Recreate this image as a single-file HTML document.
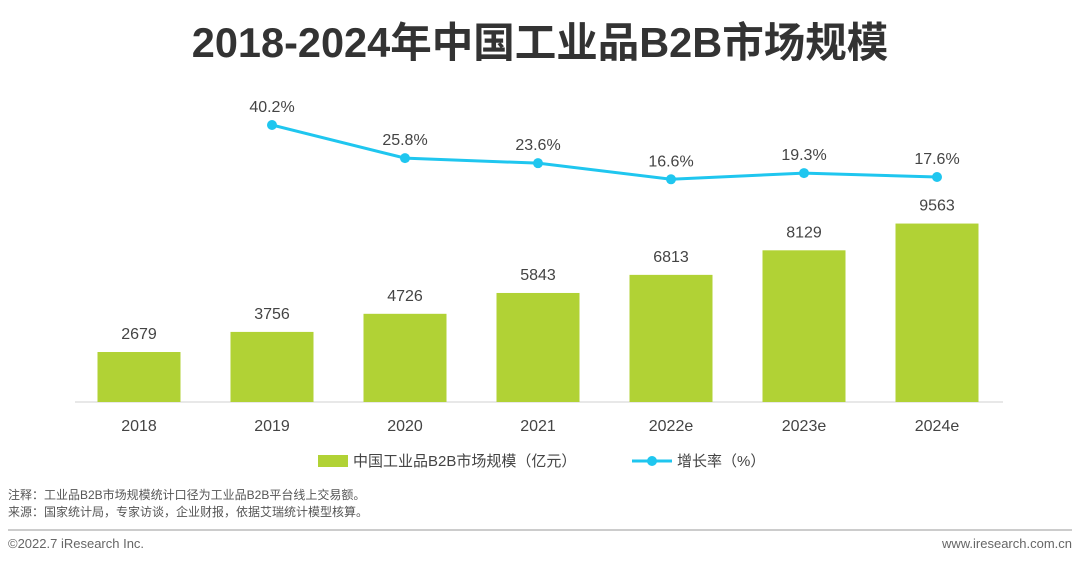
<!DOCTYPE html>
<html><head><meta charset="utf-8"><style>
body{margin:0;background:#fff;width:1080px;height:564px;overflow:hidden;font-family:"Liberation Sans","Noto Sans CJK SC",sans-serif}
</style></head><body>
<svg width="1080" height="564" xmlns="http://www.w3.org/2000/svg" font-family="Liberation Sans, Noto Sans CJK SC, sans-serif">
<text x="540" y="57" text-anchor="middle" font-size="41.5" font-weight="bold" fill="#333">2018-2024年中国工业品B2B市场规模</text>
<line x1="75" y1="402" x2="1003" y2="402" stroke="#d0d0d0" stroke-width="1"/>
<g id="bars"></g><g id="line"></g><g id="xlabels"></g>
<g>
<rect x="318" y="455" width="30" height="12" fill="#b1d235"/>
<text x="353" y="466" font-size="15" fill="#444">中国工业品B2B市场规模（亿元）</text>
<line x1="632" y1="461" x2="672" y2="461" stroke="#1fc6ef" stroke-width="3"/>
<circle cx="652" cy="461" r="5" fill="#1fc6ef"/>
<text x="677" y="466" font-size="15" fill="#444">增长率（%）</text>
</g>
<text x="8" y="499" font-size="12" fill="#555">注释：工业品B2B市场规模统计口径为工业品B2B平台线上交易额。</text>
<text x="8" y="516" font-size="12" fill="#555">来源：国家统计局，专家访谈，企业财报，依据艾瑞统计模型核算。</text>
<line x1="8" y1="530" x2="1072" y2="530" stroke="#999" stroke-width="1"/>
<text x="8" y="548" font-size="13" fill="#666">©2022.7 iResearch Inc.</text>
<text x="1072" y="548" font-size="13" fill="#666" text-anchor="end">www.iresearch.com.cn</text>
</svg>
<script>
const categories=["2018","2019","2020","2021","2022e","2023e","2024e"];
const marketSize=[2679,3756,4726,5843,6813,8129,9563];
const growthRate=[null,40.2,25.8,23.6,16.6,19.3,17.6];
const NS="http://www.w3.org/2000/svg";
function xPos(i){return 139+i*133;}
function yBar(v){return 402-v*0.01866;}
function yLine(v){return 125+(40.2-v)*2.3;}
function mk(tag,attrs,parent){const e=document.createElementNS(NS,tag);for(const k in attrs)e.setAttribute(k,attrs[k]);parent.appendChild(e);return e;}
const gb=document.getElementById('bars'),gl=document.getElementById('line'),gx=document.getElementById('xlabels');
categories.forEach((c,i)=>{
 const x=xPos(i),v=marketSize[i],y=yBar(v);
 const r=mk('rect',{x:x-41.5,y:y,width:83,height:402-y,fill:'#b1d235'},gb);
 
 
 const t=mk('text',{x:x,y:y-13,'text-anchor':'middle','font-size':16,fill:'#444'},gb);t.textContent=v;
 
 
 const l=mk('text',{x:x,y:431,'text-anchor':'middle','font-size':16,fill:'#444'},gx);l.textContent=c;
 
 
});
let pts=[];
growthRate.forEach((g,i)=>{if(g!==null)pts.push([xPos(i),yLine(g),g,categories[i]]);});
const pl=mk('polyline',{points:pts.map(p=>p[0]+','+p[1]).join(' '),fill:'none',stroke:'#1fc6ef','stroke-width':3},gl);


pts.forEach(p=>{
 const c=mk('circle',{cx:p[0],cy:p[1],r:5,fill:'#1fc6ef'},gl);
 
 
 const t=mk('text',{x:p[0],y:p[1]-13,'text-anchor':'middle','font-size':16,fill:'#444'},gl);t.textContent=p[2].toFixed(1)+'%';
 
 
});
</script>
</body></html>
